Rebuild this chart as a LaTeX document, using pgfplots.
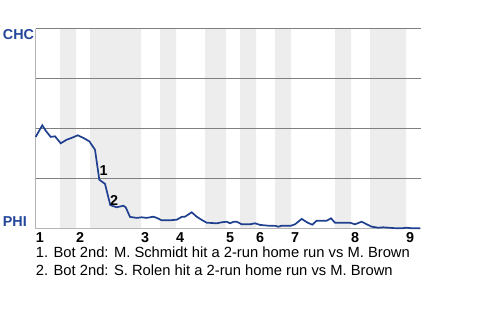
\documentclass[border=0pt]{standalone}
\usepackage{pgfplots}
\pgfplotsset{compat=1.18}
\usepackage{fontspec}
\setmainfont{Liberation Sans}
\definecolor{teamblue}{HTML}{1F3F8F}
\definecolor{lblblue}{HTML}{23469A}
\definecolor{band}{HTML}{EDEDED}
\definecolor{gridc}{HTML}{808080}
\definecolor{axc}{HTML}{B4B4B4}
\newcommand{\fs}{\fontsize{14.4}{16}\selectfont}
\newcommand{\fst}{\fontsize{14.8}{17}\selectfont}
\begin{document}
\begin{tikzpicture}
\begin{axis}[
  at={(35.7bp,91.3bp)}, anchor=south west,
  scale only axis, width=385.3bp, height=200bp,
  xmin=0, xmax=385.3, ymin=0, ymax=100,
  set layers, clip=false,
  axis x line*=bottom, axis y line*=left,
  x axis line style={axc, line width=1bp},
  y axis line style={axc, line width=1bp},
  ytick={25,50,75,100}, yticklabels={},
  ymajorgrids, major grid style={gridc, line width=1bp},
  major tick length=0pt,
  xtick={0,40.3,105.3,140.3,190.3,220.3,255.3,315.3,370.3},
  xticklabels={1,2,3,4,5,6,7,8,9},
  xticklabel style={anchor=north west, inner sep=0pt, font=\fs\bfseries, yshift=-4bp},
]
% shaded bottom halves of innings
\addplot[const plot, fill=band, draw=none, on layer=axis background] coordinates {
(0,0) (24.3,100) (40.3,0) (54.3,100) (105.3,0) (124.3,100) (140.3,0)
(169.3,100) (190.3,0) (204.3,100) (220.3,0) (239.3,100) (255.3,0)
(299.3,100) (315.3,0) (334.3,100) (370.3,0) (385.3,0)} \closedcycle;
% win probability line
\addplot[teamblue, line width=1.7bp, mark=none] coordinates {
(0,45.9) (6.6,51.7) (10,49) (15,45.9) (19.3,46.2) (25,42.7) (31,44.5)
(36,45.4) (42,46.7) (47.6,45.4) (53.6,43.7) (59.3,39.5) (63.6,24.5)
(69.3,22.4) (74.6,11.8) (81,10.7) (87.6,11.5) (90,10.7) (94.3,5.9)
(101,5.4) (106,5.7) (111,5.4) (117.6,6) (121,5.4) (126,4.2) (134.3,4.2)
(141,4.5) (146,5.9) (149.3,6) (156,8.2) (161,6) (166,4.4) (171,3)
(181,2.7) (186,3.2) (191,3.5) (194.3,2.7) (197.6,3.4) (201,3.5) (206,2.2)
(214.3,2.2) (219.3,2.7) (224.3,1.9) (232.6,1.5) (240,1.4) (242.6,1.0)
(246,1.5) (255.3,1.5) (259.3,2.2) (266,4.9) (272,3) (276.6,2) (281,4)
(291,4) (295.3,5.2) (299.3,3) (304.3,3) (314.3,3) (319.3,2.2) (326,3.5)
(331,2.2) (336,1) (342.6,0.5) (347.6,0.7) (352.6,0.5) (361,0.2) (366,0.2)
(371,0.5) (376,0.2) (384.3,0.2)};
\node[font=\fs\bfseries, inner sep=0pt] at (axis cs:67.8,28.9) {1};
\node[font=\fs\bfseries, inner sep=0pt] at (axis cs:78.3,13.9) {2};
\node[font=\fs\bfseries, text=lblblue, anchor=north west, inner sep=0pt] at (axis cs:-33,99.7) {CHC};
\node[font=\fs\bfseries, text=lblblue, anchor=base west, inner sep=0pt] at (axis cs:-33,1) {PHI};
\node[font=\fst, anchor=base west, inner sep=0pt] at (axis cs:0,-14.2) {1. Bot 2nd: M. Schmidt hit a 2-run home run vs M. Brown};
\node[font=\fst, anchor=base west, inner sep=0pt] at (axis cs:0,-23.2) {2. Bot 2nd: S. Rolen hit a 2-run home run vs M. Brown};
\end{axis}
\pgfresetboundingbox
\useasboundingbox (0,0) rectangle (480bp,320bp);
\end{tikzpicture}
\end{document}
